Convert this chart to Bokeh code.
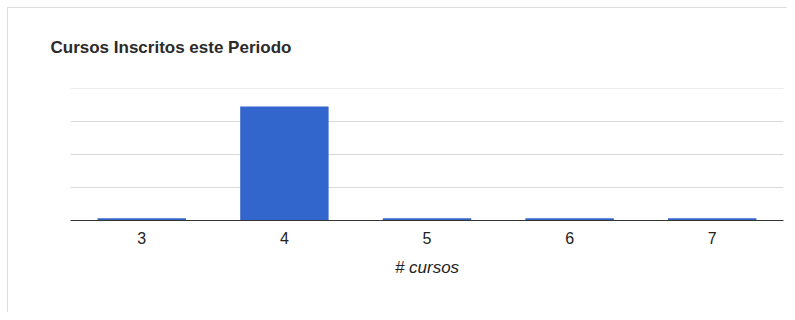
from bokeh.plotting import figure
from bokeh.models import FixedTicker
from bokeh.embed import file_html
from bokeh.resources import INLINE

categories = ["3", "4", "5", "6", "7"]
counts = [1, 52, 1, 1, 1]
grid_ticks = [0, 15, 30, 45, 60]

p = figure(x_range=categories, y_range=(0, 60.2), width=787, height=312,
           output_backend="svg", toolbar_location=None,
           title="Cursos Inscritos este Periodo",
           min_border_left=70, min_border_right=4, min_border_top=88, min_border_bottom=92)
p.vbar(x=categories, top=counts, width=0.62, color="#3366CC", line_color=None)

p.outline_line_color = None
p.background_fill_color = "white"
p.border_fill_alpha = 0
p.yaxis.visible = False
p.yaxis.ticker = FixedTicker(ticks=grid_ticks)
p.ygrid.ticker = FixedTicker(ticks=grid_ticks)
p.ygrid.grid_line_color = "#d9d9d9"
p.xgrid.grid_line_color = None

p.title.align = "left"
p.title.offset = -20
p.title.standoff = 64
p.title.text_font = "Liberation Sans"
p.title.text_font_size = "17px"
p.title.text_font_style = "bold"
p.title.text_color = "#2a2a2a"

ax = p.xaxis[0]
ax.axis_line_color = "#333333"
ax.major_tick_line_color = None
ax.minor_tick_line_color = None
ax.major_label_text_font = "Liberation Sans"
ax.major_label_text_font_size = "16px"
ax.major_label_text_color = "#222222"
ax.major_label_standoff = 5
ax.axis_label = "# cursos"
ax.axis_label_text_font = "Liberation Sans"
ax.axis_label_text_font_size = "17px"
ax.axis_label_text_font_style = "italic"
ax.axis_label_text_color = "#222222"
ax.axis_label_standoff = 11

p.styles = {"background": "white",
            "box-shadow": "inset 7px 7px 0 0 #ffffff, inset 8px 8px 0 0 #dddddd"}

open("out.html", "w").write(file_html(p, INLINE))
